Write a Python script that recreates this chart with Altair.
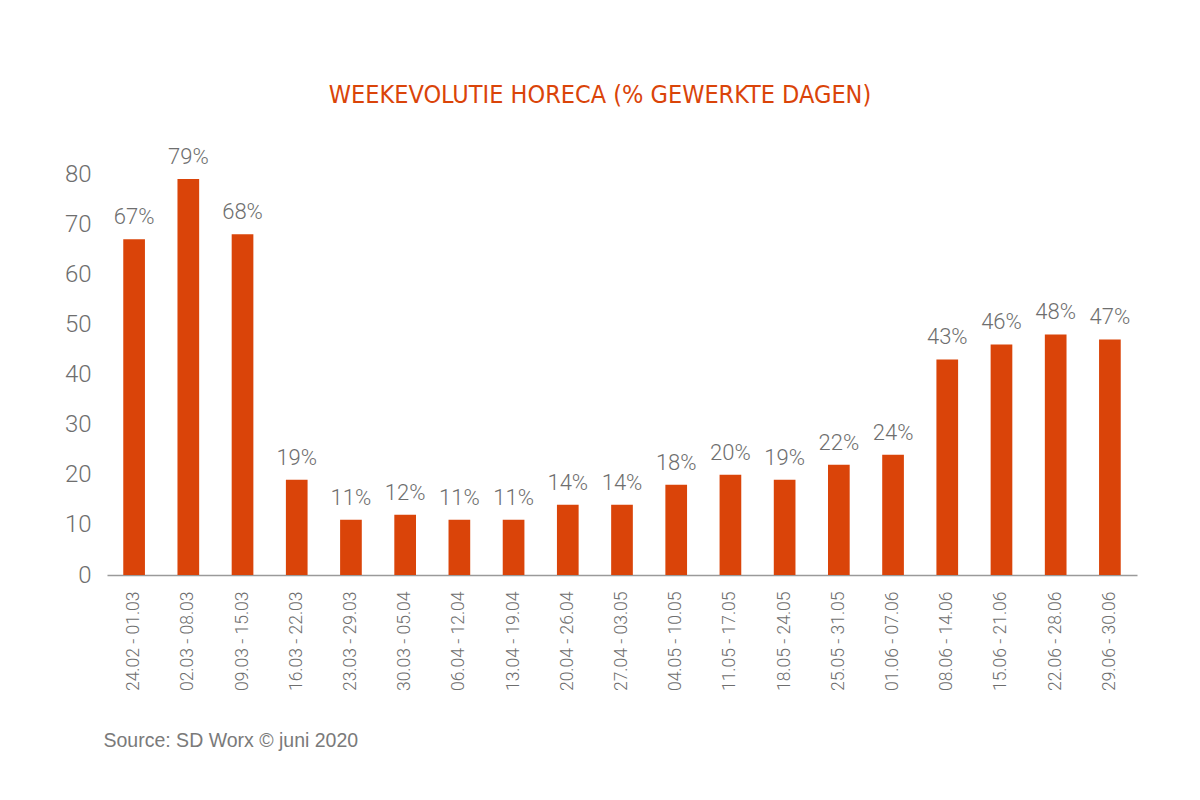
import altair as alt
import pandas as pd

weeks = ["24.02 - 01.03", "02.03 - 08.03", "09.03 - 15.03", "16.03 - 22.03", "23.03 - 29.03",
         "30.03 - 05.04", "06.04 - 12.04", "13.04 - 19.04", "20.04 - 26.04", "27.04 - 03.05",
         "04.05 - 10.05", "11.05 - 17.05", "18.05 - 24.05", "25.05 - 31.05", "01.06 - 07.06",
         "08.06 - 14.06", "15.06 - 21.06", "22.06 - 28.06", "29.06 - 30.06"]
values = [67, 79, 68, 19, 11, 12, 11, 11, 14, 14, 18, 20, 19, 22, 24, 43, 46, 48, 47]

df = pd.DataFrame({"week": weeks, "value": values})
df["label"] = [f"{v}%" for v in values]

ORANGE = "#DA4409"
GRAY = "#6E6E6E"

x = alt.X("week:N", sort=weeks,
          scale=alt.Scale(paddingInner=0.6, paddingOuter=0.3),
          axis=alt.Axis(title="Source: SD Worx © juni 2020", labelAngle=-90, labelFont="Roboto",
                        labelFontWeight=300, labelFontSize=17.5, labelColor=GRAY, labelPadding=16,
                        ticks=False, domainColor="#9A9A9A", domainWidth=1.5,
                        titleFont="Liberation Sans", titleFontSize=19.5, titleFontWeight="normal",
                        titleColor="#7A7A7A", titleX=-4, titleY=165, titleAlign="left",
                        titleBaseline="middle", titleAnchor="start"))
y = alt.Y("value:Q", scale=alt.Scale(domain=[0, 80]),
          axis=alt.Axis(title=None, values=[0, 10, 20, 30, 40, 50, 60, 70, 80], grid=False,
                        domain=False, ticks=False, labelFont="Roboto", labelFontWeight=300,
                        labelFontSize=24, labelColor=GRAY, labelPadding=16))

bars = alt.Chart(df).mark_bar(color=ORANGE).encode(x=x, y=y)
labels = alt.Chart(df).mark_text(font="Roboto", fontWeight=300, fontSize=22, color=GRAY,
                                 baseline="alphabetic", dy=-15).encode(
    x=alt.X("week:N", sort=weeks), y="value:Q", text="label:N")

chart = alt.layer(bars, labels).properties(
    width=1030, height=401,
    background="white",
    title=alt.TitleParams("WEEKEVOLUTIE HORECA (% GEWERKTE DAGEN)", font="DejaVu Sans Condensed",
                          fontSize=25, fontWeight="normal", color=ORANGE, anchor="middle",
                          frame="group", dx=-22, dy=54, offset=72, baseline="alphabetic"),
    autosize=alt.AutoSizeParams(type="none"),
    padding={"left": 99, "top": 166, "right": 40, "bottom": 200},
).configure_view(stroke=None, strokeWidth=0)

chart.save("out.html", embed_options={"renderer": "svg", "actions": False})
